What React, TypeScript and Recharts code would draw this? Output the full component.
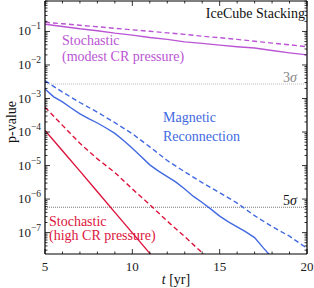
import React from 'react';
import { LineChart, Line, XAxis, YAxis, ReferenceLine } from 'recharts';

// p-values, t in years
const tYears = [5, 6, 7, 8, 9, 10, 11, 12, 13, 14, 15, 16, 17, 18, 19, 20];
const modestSolid = [0.164, 0.141, 0.12, 0.105, 0.089, 0.078, 0.066, 0.058, 0.049, 0.044, 0.039, 0.035, 0.032, 0.027, 0.023, 0.02];
const modestDashed = [0.188, 0.17, 0.153, 0.138, 0.124, 0.112, 0.101, 0.091, 0.082, 0.072, 0.065, 0.058, 0.051, 0.045, 0.04, 0.035];
const reconDashed = [3.4e-3, 1.55e-3, 7.6e-4, 3.9e-4, 1.9e-4, 8.9e-5, 3.6e-5, 1.41e-5, 6.5e-6, 3.1e-6, 1.55e-6, 7.6e-7, 3.2e-7, 1.51e-7, 7.8e-8, 3.4e-8];

const tHalf = [5, 5.5, 6, 6.5, 7, 7.5, 8, 8.5, 9, 9.5, 10, 10.5, 11, 11.5, 12, 12.5, 13, 13.5, 14, 14.5, 15, 15.5, 16, 16.5, 17, 17.5, 18];
const reconSolid = [1.91e-3, 1.12e-3, 7.9e-4, 5.2e-4, 3.5e-4, 2.5e-4, 1.86e-4, 1.32e-4, 9.1e-5, 5.6e-5, 3.3e-5, 1.86e-5, 1.05e-5, 6.8e-6, 4.7e-6, 3.2e-6, 2.0e-6, 1.2e-6, 7.9e-7, 5.0e-7, 3.1e-7, 2.1e-7, 1.48e-7, 1.05e-7, 7.1e-8, 3.5e-8, 1.78e-8];

const tHigh = [5, 6, 7, 8, 9, 10, 11, 12, 13, 14, 15];
const highSolid = [1.12e-4, 2.75e-5, 6.8e-6, 1.66e-6, 4.0e-7, 9.8e-8, 2.4e-8, 5.9e-9];
const highDashed = [5.5e-4, 1.58e-4, 4.6e-5, 1.58e-5, 6.2e-6, 2.0e-6, 6.8e-7, 2.2e-7, 7.6e-8, 2.5e-8, 8.3e-9];

const SIGMA3 = 2.7e-3;
const SIGMA5 = 5.7e-7;

const Y_MIN = 2.3e-8;
const Y_MAX = 0.81;
const yMajor = [1e-7, 1e-6, 1e-5, 1e-4, 1e-3, 1e-2, 1e-1];
const yMinorMult = [2, 3, 4, 5, 6, 7, 8, 9];
const xMajor = [5, 10, 15, 20];

const W = 314;
const H = 288;
const PL = 45;
const PR = 307;
const PT = 1;
const PB = 254;

const PURPLE = '#ba55d3';
const BLUE = '#4169e1';
const RED = '#dc143c';
const FONT = '"Liberation Serif", "DejaVu Serif", serif';

const toRows = (ts: number[], vs: number[]) => vs.map((v, i) => ({ t: ts[i], v }));

const yTicks: number[] = [];
for (let k = -8; k <= 0; k++) {
  const base = Math.pow(10, k);
  [1, ...yMinorMult].forEach((m) => {
    const v = m * base;
    if (v >= Y_MIN && v <= Y_MAX) yTicks.push(v);
  });
}

const isMajorY = (v: number) => yMajor.some((m) => Math.abs(v / m - 1) < 1e-6);

const YTick = (props: any) => {
  const { y, payload } = props;
  const v = payload.value;
  const major = isMajorY(v);
  const len = major ? 5 : 2.5;
  return (
    <g>
      <line x1={PL} x2={PL + len} y1={y} y2={y} stroke="#000" strokeWidth={0.8} />
      <line x1={PR - len} x2={PR} y1={y} y2={y} stroke="#000" strokeWidth={0.8} />
      {major && (
        <text x={PL - 4} y={y + 4} textAnchor="end" fontFamily={FONT} fontSize={13} fill="#222">
          10
          <tspan dy={-6} fontSize={9.5}>{'\u2212' + Math.round(-Math.log10(v))}</tspan>
        </text>
      )}
    </g>
  );
};

const XTick = (props: any) => {
  const { x, payload } = props;
  const v = payload.value;
  const major = xMajor.includes(v);
  const len = major ? 5 : 2.5;
  return (
    <g>
      <line x1={x} x2={x} y1={PB} y2={PB - len} stroke="#000" strokeWidth={0.8} />
      <line x1={x} x2={x} y1={PT} y2={PT + len} stroke="#000" strokeWidth={0.8} />
      {major && (
        <text x={x} y={PB + 17} textAnchor="middle" fontFamily={FONT} fontSize={13} fill="#222">
          {v}
        </text>
      )}
    </g>
  );
};

export default function App() {
  return (
    <div style={{ position: 'absolute', left: 0, top: 0, width: W, height: H, background: '#fff' }}>
      <LineChart width={W} height={H} margin={{ top: PT, right: W - PR, bottom: 0, left: 0 }}>
        <XAxis
          dataKey="t"
          type="number"
          domain={[5, 20]}
          ticks={tYears}
          interval={0}
          allowDataOverflow
          height={H - PB}
          tickLine={false}
          axisLine={{ stroke: '#000', strokeWidth: 1.2 }}
          tick={<XTick />}
        />
        <YAxis
          scale="log"
          type="number"
          domain={[Y_MIN, Y_MAX]}
          ticks={yTicks}
          interval={0}
          allowDataOverflow
          width={PL}
          tickLine={false}
          axisLine={{ stroke: '#000', strokeWidth: 1.2 }}
          tick={<YTick />}
        />
        <ReferenceLine y={Y_MAX} stroke="#000" strokeWidth={1.2} />
        <ReferenceLine x={20} stroke="#000" strokeWidth={1.2} />
        <ReferenceLine y={SIGMA3} stroke="#aaa" strokeWidth={0.8} strokeDasharray="1 1" />
        <ReferenceLine y={SIGMA5} stroke="#777" strokeWidth={1.2} strokeDasharray="1 1" />

        <Line data={toRows(tYears, modestSolid)} dataKey="v" stroke={PURPLE} strokeWidth={1.4} dot={false} isAnimationActive={false} />
        <Line data={toRows(tYears, modestDashed)} dataKey="v" stroke={PURPLE} strokeWidth={1.4} strokeDasharray="5 3" dot={false} isAnimationActive={false} />
        <Line data={toRows(tHalf, reconSolid)} dataKey="v" stroke={BLUE} strokeWidth={1.4} dot={false} isAnimationActive={false} />
        <Line data={toRows(tYears, reconDashed)} dataKey="v" stroke={BLUE} strokeWidth={1.4} strokeDasharray="5 3" dot={false} isAnimationActive={false} />
        <Line data={toRows(tHigh, highSolid)} dataKey="v" stroke={RED} strokeWidth={1.4} dot={false} isAnimationActive={false} />
        <Line data={toRows(tHigh, highDashed)} dataKey="v" stroke={RED} strokeWidth={1.4} strokeDasharray="5 3" dot={false} isAnimationActive={false} />
      </LineChart>

      <svg width={W} height={H} style={{ position: 'absolute', left: 0, top: 0, pointerEvents: 'none' }}>
        <g fontFamily={FONT} fontSize={14}>
          <text x={PR - 2} y={18} textAnchor="end" fill="#111">IceCube Stacking</text>
          <text x={62} y={45} fill={PURPLE}>Stochastic</text>
          <text x={62} y={61} fill={PURPLE}>(modest CR pressure)</text>
          <text x={163} y={122} fill={BLUE}>Magnetic</text>
          <text x={163} y={141} fill={BLUE}>Reconnection</text>
          <text x={49} y={226} fill={RED}>Stochastic</text>
          <text x={49} y={240} fill={RED}>(high CR pressure)</text>
          <text x={297} y={82} textAnchor="end" fill="#888">3<tspan fontStyle="italic">σ</tspan></text>
          <text x={297} y={205} textAnchor="end" fill="#111">5<tspan fontStyle="italic">σ</tspan></text>
          <text x={(PL + PR) / 2} y={284} textAnchor="middle" fontSize={14} fill="#111">
            <tspan fontStyle="italic">t</tspan> [yr]
          </text>
          <text x={16} y={122} textAnchor="middle" fontSize={14} fill="#111" transform={`rotate(-90 16 122)`}>p-value</text>
        </g>
      </svg>
    </div>
  );
}
